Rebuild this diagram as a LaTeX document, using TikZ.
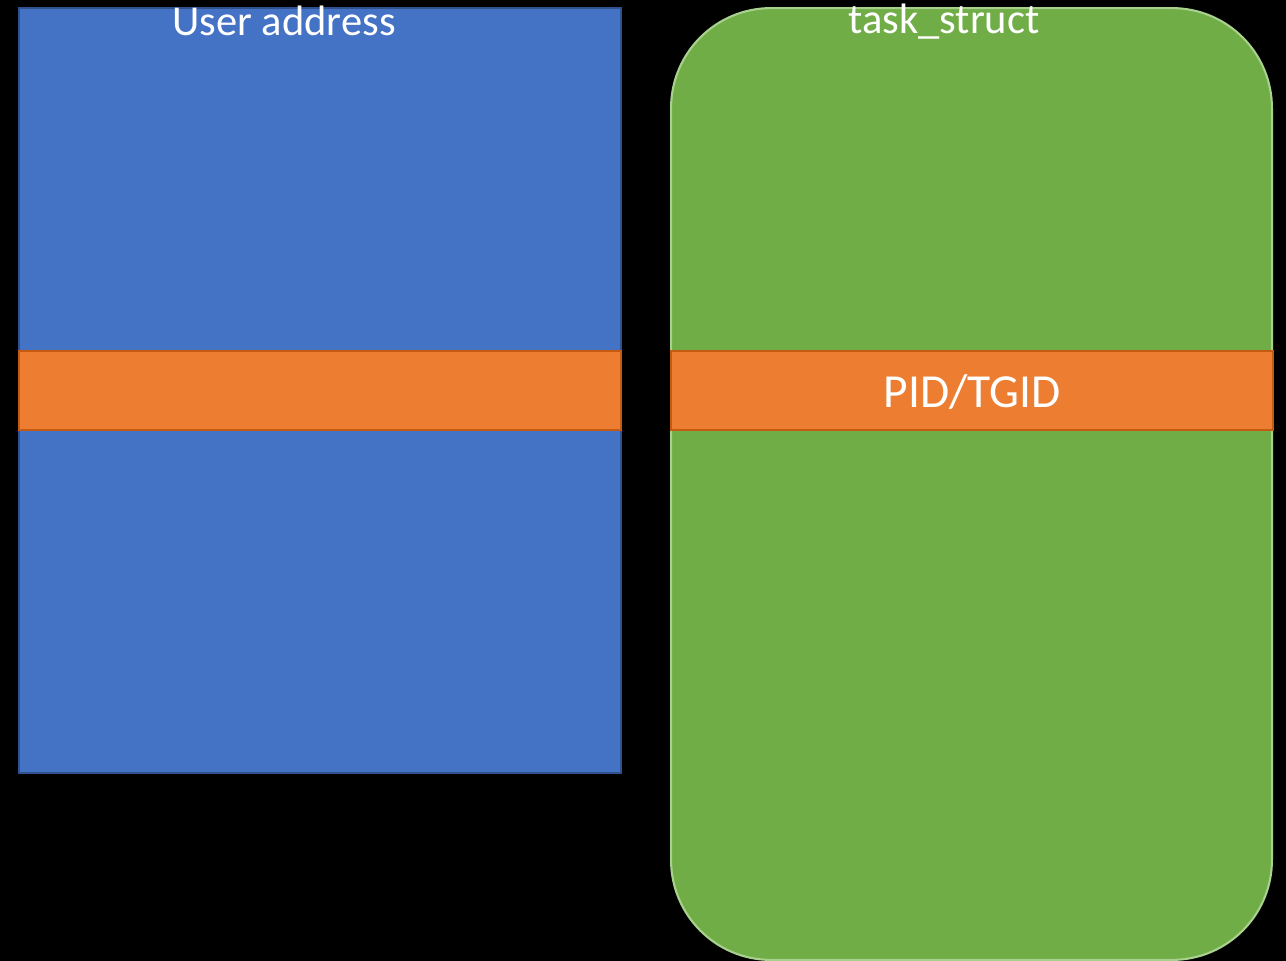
\documentclass[tikz,border=0pt]{standalone}
\usepackage{fontspec}
\setmainfont{Carlito}
\usetikzlibrary{positioning}
\definecolor{blueFill}{HTML}{4472C4}
\definecolor{blueLine}{HTML}{2F528F}
\definecolor{orangeFill}{HTML}{ED7D31}
\definecolor{orangeLine}{HTML}{C55A11}
\definecolor{greenFill}{HTML}{70AD47}
\definecolor{greenLine}{HTML}{A9D18E}
\begin{document}
\begin{tikzpicture}[x=0.02cm, y=-0.02cm,
  every node/.style={inner sep=0pt, outer sep=0pt},
  region/.style={draw=blueLine, fill=blueFill, line width=1.2pt},
  block/.style={draw=greenLine, fill=greenFill, line width=1.2pt, rounded corners=2cm},
  band/.style={draw=orangeLine, fill=orangeFill, line width=1.2pt},
  caption/.style={text=white, font=\fontsize{24.2}{28}\selectfont, anchor=base}]
\fill[black] (0,0) rectangle (1286,961);
\useasboundingbox (0,0) rectangle (1286,961);
\node[region, minimum width=12.04cm, minimum height=15.3cm] (UA) at (320,390.5) {};
\node[block, minimum width=12.02cm, minimum height=19.04cm] (TS) at (971.5,484) {};
\node[band, minimum width=12.04cm, minimum height=1.58cm] (UAband) at (320,390.5) {};
\node[band, minimum width=12.04cm, minimum height=1.58cm] (TSband) at (972,390.5) {};
\node[caption] (UAlabel) at (284,35) {User address};
\node[caption] (TSlabel) at (944,33) {task\_struct};
\node[text=white, font=\fontsize{27}{31}\selectfont] (PID) at ([yshift=-0.03cm]TSband) {PID/TGID};
\end{tikzpicture}
\end{document}
